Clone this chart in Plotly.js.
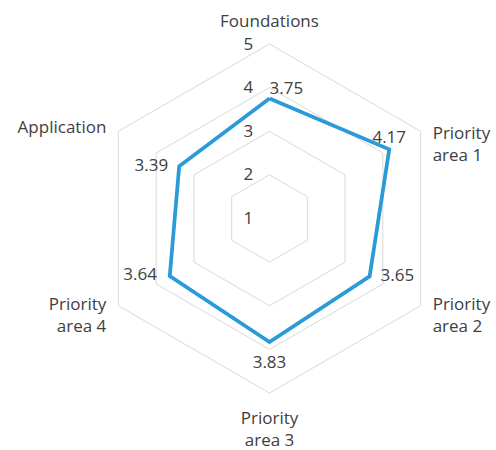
<!DOCTYPE html>
<html>
<head>
<meta charset="utf-8">
<script src="https://cdn.plot.ly/plotly-3.0.1.min.js"></script>
<style>
  html, body { margin: 0; padding: 0; background: #fff; }
  #chart { width: 496px; height: 450px; }
</style>
</head>
<body>
<div id="chart"></div>
<script>
var categories = ["Foundations", "Priority<br>area 1", "Priority<br>area 2", "Priority<br>area 3", "Priority<br>area 4", "Application"];
var scores = [3.75, 4.17, 3.65, 3.83, 3.64, 3.39];
var radialTicks = [1, 2, 3, 4, 5];

var textColor = "#404040";
var gridColor = "#d9d9d9";

// value label placement, per point
var labelPos = ["top right", "top center", "middle right", "bottom center", "middle left", "middle left"];
var labelGap = [0, 1, 16, 19, 19, 16]; // invisible marker sizes, push labels off the line

// empty lines around the category names to nudge them like Excel does
var padBefore = [0, 5, 0, 0, 0, 1];
var padAfter = [0, 0, 2, 0, 2, 0];
function rep(s, n) { var o = ""; for (var i = 0; i < n; i++) o += s; return o; }
var catText = categories.map(function (c, i) {
  return rep(" <br>", padBefore[i]) + c + rep("<br> ", padAfter[i]);
});
// radial labels sit a bit left of the vertical axis
var radialText = radialTicks.map(function (t) { return t + "\u00a0\u00a0\u00a0"; });

// close the polygon
var r = scores.concat([scores[0]]);
var theta = categories.concat([categories[0]]);

var series = {
  type: "scatterpolar",
  r: r,
  theta: theta,
  mode: "lines+markers+text",
  text: scores.map(function (v) { return v.toFixed(2); }).concat([""]),
  textposition: labelPos.concat(["top center"]),
  textfont: { family: "Open Sans", size: 17, color: textColor },
  line: { color: "#2a9ad8", width: 3.75 },
  marker: { size: labelGap.concat([0]), color: "rgba(0,0,0,0)", line: { width: 0 } },
  cliponaxis: false,
  hoverinfo: "none"
};

var layout = {
  width: 496,
  height: 450,
  margin: { l: 0, r: 0, t: 0, b: 0 },
  paper_bgcolor: "#fff",
  showlegend: false,
  font: { family: "Open Sans", size: 17, color: textColor },
  polar: {
    domain: { x: [95 / 496, 444 / 496], y: [57 / 450, 406 / 450] },
    gridshape: "linear",
    bgcolor: "rgba(0,0,0,0)",
    radialaxis: {
      range: [1, 5],
      tickmode: "array",
      tickvals: radialTicks,
      ticktext: radialText,
      angle: 90,
      tickangle: 90,
      side: "counterclockwise",
      showline: false,
      ticks: "",
      gridcolor: gridColor,
      gridwidth: 1,
      tickfont: { family: "Open Sans", size: 17, color: textColor }
    },
    angularaxis: {
      rotation: 90,
      direction: "clockwise",
      tickmode: "array",
      tickvals: categories,
      ticktext: catText,
      showgrid: false,
      showline: true,
      linecolor: gridColor,
      linewidth: 1,
      ticks: "outside",
      ticklen: 10,
      tickcolor: "rgba(0,0,0,0)",
      tickfont: { family: "Open Sans", size: 17, color: textColor }
    }
  }
};

Plotly.newPlot("chart", [series], layout, { displayModeBar: false, staticPlot: true });
</script>
</body>
</html>
